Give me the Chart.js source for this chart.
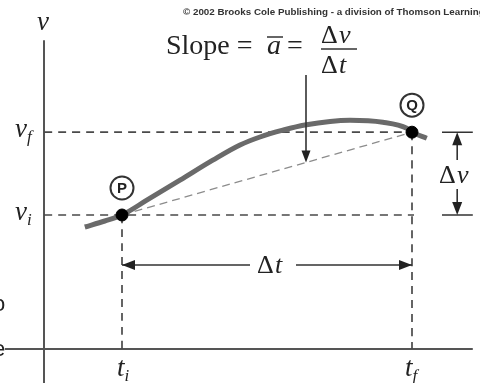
<!DOCTYPE html>
<html>
<head>
<meta charset="utf-8">
<script src="https://cdn.jsdelivr.net/npm/chart.js@4/dist/chart.umd.min.js"></script>
<style>
html, body { margin: 0; padding: 0; background: #fff; }
#wrap { width: 480px; height: 383px; position: relative; }
</style>
</head>
<body>
<div id="wrap"><canvas id="c"></canvas></div>
<script>
// velocity curve v(t)
var curveT = [1.02, 1.52, 1.95, 2.57, 3.4, 4.22, 4.9, 5.4, 5.97, 6.52, 7.65, 8.47, 9.07, 9.2, 9.57];
var curveV = [3.05, 3.2, 3.35, 3.72, 4.22, 4.72, 5.1, 5.3, 5.47, 5.6, 5.72, 5.67, 5.52, 5.42, 5.27];

// points P and Q: (t_i, v_i) and (t_f, v_f)
var pointNames = ['P', 'Q'];
var pointT = [1.95, 9.2];
var pointV = [3.35, 5.42];

// extent of the drawn axes
var axisT = [-0.98, 10.72];
var axisV = [-0.9, 7.72];

var ti = pointT[0], tf = pointT[1], vi = pointV[0], vf = pointV[1];

function xy(ts, vs) {
    return ts.map(function (t, i) { return { x: t, y: vs[i] }; });
}

function line(data, color, width, dash, order) {
    return {
        data: data,
        showLine: true,
        borderColor: color,
        borderWidth: width,
        borderDash: dash || [],
        pointRadius: 0,
        fill: false,
        order: order
    };
}

function head(ctx, x, y, ang, len, half) {
    ctx.save();
    ctx.translate(x, y);
    ctx.rotate(ang);
    ctx.beginPath();
    ctx.moveTo(0, 0);
    ctx.lineTo(-len, -half);
    ctx.lineTo(-len, half);
    ctx.closePath();
    ctx.fill();
    ctx.restore();
}

function mathLabel(ctx, main, sub, x, y) {
    ctx.font = 'italic 27px "Liberation Serif", serif';
    ctx.textAlign = 'left';
    var w = ctx.measureText(main).width;
    ctx.fillText(main, x, y);
    if (sub) {
        ctx.font = 'italic 17px "Liberation Serif", serif';
        ctx.fillText(sub, x + w, y + 5);
    }
}

var extras = {
    id: 'extras',
    afterDatasetsDraw: function (chart) {
        var ctx = chart.ctx;
        var sx = chart.scales.x, sy = chart.scales.y;
        var px = function (t) { return sx.getPixelForValue(t); };
        var py = function (v) { return sy.getPixelForValue(v); };
        ctx.save();
        ctx.fillStyle = '#222';
        ctx.strokeStyle = '#333';
        ctx.textBaseline = 'alphabetic';

        // copyright line
        ctx.font = 'bold 9.8px "Liberation Sans", Arial, sans-serif';
        ctx.fillStyle = '#333';
        ctx.fillText('\u00a9 2002 Brooks Cole Publishing - a division of Thomson Learning', 183, 15);

        // axis labels
        ctx.fillStyle = '#222';
        mathLabel(ctx, 'v', '', px(0) - 7, 30);
        mathLabel(ctx, 'v', 'f', px(0) - 29, py(vf) + 5);
        mathLabel(ctx, 'v', 'i', px(0) - 29, py(vi) + 5);
        mathLabel(ctx, 't', 'i', px(ti) - 5, 376);
        mathLabel(ctx, 't', 'f', px(tf) - 7, 376);

        // slope formula
        ctx.font = '28px "Liberation Serif", serif';
        ctx.fillText('Slope =', 166, 54);
        ctx.font = 'italic 28px "Liberation Serif", serif';
        ctx.fillText('a', 267, 54);
        ctx.lineWidth = 1.5;
        ctx.beginPath(); ctx.moveTo(267, 37); ctx.lineTo(283, 37); ctx.stroke();
        ctx.font = '28px "Liberation Serif", serif';
        ctx.fillText('=', 287, 54);
        ctx.font = '26px "Liberation Serif", serif';
        ctx.fillText('\u0394', 321, 43);
        ctx.fillText('\u0394', 321, 73);
        ctx.font = 'italic 26px "Liberation Serif", serif';
        ctx.fillText('v', 339, 43);
        ctx.fillText('t', 339, 73);
        ctx.beginPath(); ctx.moveTo(321, 49); ctx.lineTo(357, 49); ctx.stroke();

        // arrow from the formula down to the chord
        var ta = 6.55;
        var vc = vi + (vf - vi) * (ta - ti) / (tf - ti);
        ctx.lineWidth = 1.6;
        ctx.beginPath(); ctx.moveTo(px(ta), 75); ctx.lineTo(px(ta), py(vc) - 10); ctx.stroke();
        head(ctx, px(ta), py(vc), Math.PI / 2, 12, 4.5);

        // delta t arrow
        var yt = py(2.1);
        ctx.beginPath();
        ctx.moveTo(px(ti), yt); ctx.lineTo(250, yt);
        ctx.moveTo(296, yt); ctx.lineTo(px(tf), yt);
        ctx.stroke();
        head(ctx, px(ti), yt, Math.PI, 13, 5);
        head(ctx, px(tf), yt, 0, 13, 5);
        ctx.font = '26px "Liberation Serif", serif';
        ctx.fillText('\u0394', 257, yt + 8);
        ctx.font = 'italic 26px "Liberation Serif", serif';
        ctx.fillText('t', 275, yt + 8);

        // delta v bracket
        var xa = px(9.95), xb = px(10.72), xm = px(10.33);
        ctx.lineWidth = 1.6;
        ctx.beginPath();
        ctx.moveTo(xa, py(vf)); ctx.lineTo(xb, py(vf));
        ctx.moveTo(xa, py(vi)); ctx.lineTo(xb, py(vi));
        ctx.moveTo(xm, py(vf) + 8); ctx.lineTo(xm, 160);
        ctx.moveTo(xm, 189); ctx.lineTo(xm, py(vi) - 8);
        ctx.stroke();
        head(ctx, xm, py(vf), -Math.PI / 2, 13, 5);
        head(ctx, xm, py(vi), Math.PI / 2, 13, 5);
        ctx.font = '26px "Liberation Serif", serif';
        ctx.fillText('\u0394', 439, 183);
        ctx.font = 'italic 26px "Liberation Serif", serif';
        ctx.fillText('v', 457, 183);

        // circled point names
        ctx.lineWidth = 2;
        ctx.textAlign = 'center';
        ctx.textBaseline = 'middle';
        pointNames.forEach(function (n, i) {
            var cx = px(pointT[i]), cy = py(pointV[i]) - 27;
            ctx.beginPath(); ctx.arc(cx, cy, 11.5, 0, Math.PI * 2); ctx.stroke();
            ctx.font = 'bold 15px "Liberation Sans", Arial, sans-serif';
            ctx.fillText(n, cx, cy + 1);
        });

        // bits of slide text cut off at the left edge
        ctx.textAlign = 'left';
        ctx.font = '22px "Liberation Sans", Arial, sans-serif';
        ctx.fillText('o', -7, 305);
        ctx.fillText('e', -7, 350);
        ctx.restore();
    }
};

new Chart(document.getElementById('c'), {
    type: 'scatter',
    data: {
        datasets: [
            {
                data: xy(pointT, pointV),
                pointRadius: 6,
                pointBackgroundColor: '#000',
                pointBorderColor: '#000',
                showLine: false,
                order: 0
            },
            Object.assign(line(xy(curveT, curveV), '#6a6a6a', 5, null, 1), { cubicInterpolationMode: 'monotone' }),
            line(xy(pointT, pointV), '#8c8c8c', 1.3, [8, 5], 2),
            line([{ x: 0, y: vf }, { x: tf, y: vf }], '#4a4a4a', 1.7, [8, 6], 3),
            line([{ x: 0, y: vi }, { x: tf + 0.05, y: vi }], '#4a4a4a', 1.7, [8, 6], 3),
            line([{ x: ti, y: vi }, { x: ti, y: 0 }], '#4a4a4a', 1.7, [8, 6], 3),
            line([{ x: tf, y: vf }, { x: tf, y: 0 }], '#4a4a4a', 1.7, [8, 6], 3),
            line([{ x: 0, y: axisV[0] }, { x: 0, y: axisV[1] }], '#555', 2, null, 4),
            line([{ x: axisT[0], y: 0 }, { x: axisT[1], y: 0 }], '#555', 2, null, 4)
        ]
    },
    options: {
        responsive: true,
        maintainAspectRatio: false,
        animation: false,
        events: [],
        layout: { padding: 0, autoPadding: false },
        plugins: {
            legend: { display: false },
            tooltip: { enabled: false }
        },
        elements: { line: { tension: 0.4 } },
        scales: {
            x: { type: 'linear', display: false, min: -1.1, max: 10.9 },
            y: { type: 'linear', display: false, min: -0.85, max: 8.725 }
        }
    },
    plugins: [extras]
});
</script>
</body>
</html>
